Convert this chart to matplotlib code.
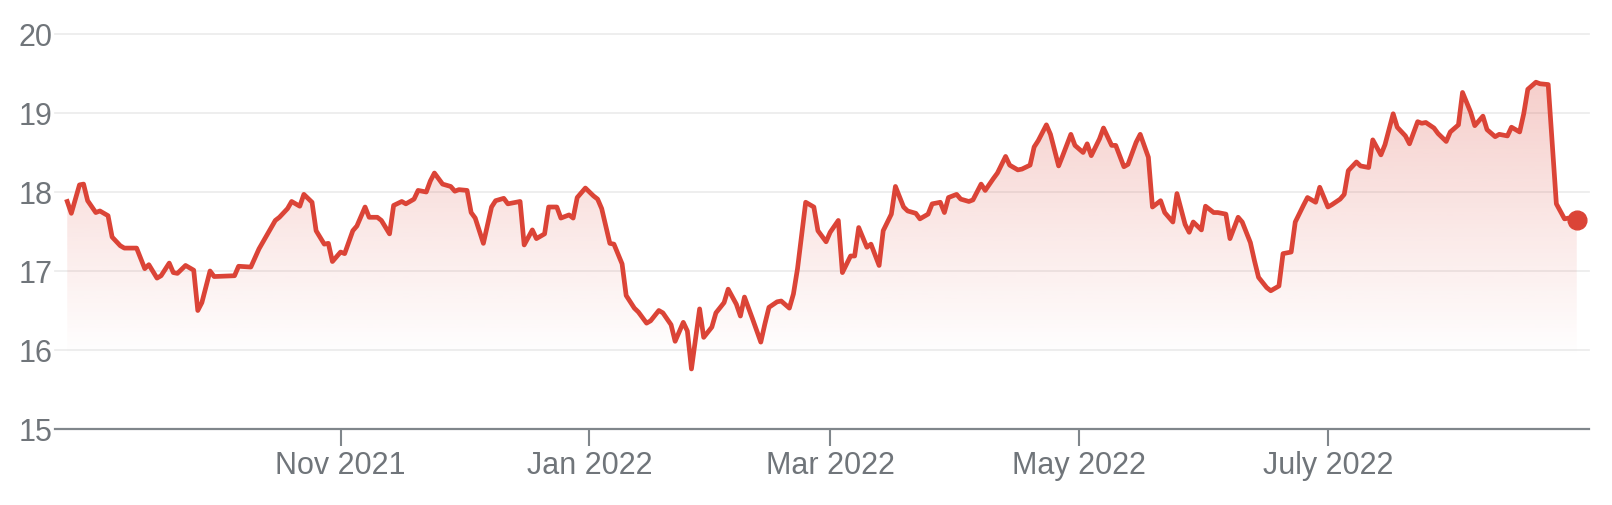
import matplotlib
matplotlib.use('Agg')
import matplotlib.pyplot as plt
import matplotlib.dates as mdates
from matplotlib.colors import to_rgb
import numpy as np
import pandas as pd

# price points
dates = [
    '2021-08-26', '2021-08-27', '2021-08-29', '2021-08-30', '2021-08-31', '2021-09-02',
    '2021-09-03', '2021-09-05', '2021-09-06', '2021-09-08', '2021-09-09', '2021-09-12',
    '2021-09-14', '2021-09-15', '2021-09-17', '2021-09-18', '2021-09-20', '2021-09-21',
    '2021-09-22', '2021-09-24', '2021-09-26', '2021-09-27', '2021-09-28', '2021-09-30',
    '2021-10-01', '2021-10-06', '2021-10-07', '2021-10-10', '2021-10-12', '2021-10-16',
    '2021-10-17', '2021-10-19', '2021-10-20', '2021-10-22', '2021-10-23', '2021-10-25',
    '2021-10-26', '2021-10-28', '2021-10-29', '2021-10-30', '2021-11-01', '2021-11-02',
    '2021-11-04', '2021-11-05', '2021-11-07', '2021-11-08', '2021-11-10', '2021-11-11',
    '2021-11-13', '2021-11-14', '2021-11-16', '2021-11-17', '2021-11-19', '2021-11-20',
    '2021-11-22', '2021-11-23', '2021-11-24', '2021-11-26', '2021-11-28', '2021-11-29',
    '2021-11-30', '2021-12-02', '2021-12-03', '2021-12-04', '2021-12-06', '2021-12-08',
    '2021-12-09', '2021-12-11', '2021-12-12', '2021-12-15', '2021-12-16', '2021-12-18',
    '2021-12-19', '2021-12-21', '2021-12-22', '2021-12-24', '2021-12-25', '2021-12-27',
    '2021-12-28', '2021-12-29', '2021-12-31', '2022-01-02', '2022-01-03', '2022-01-04',
    '2022-01-06', '2022-01-07', '2022-01-09', '2022-01-10', '2022-01-12', '2022-01-13',
    '2022-01-15', '2022-01-16', '2022-01-18', '2022-01-19', '2022-01-21', '2022-01-22',
    '2022-01-24', '2022-01-25', '2022-01-26', '2022-01-28', '2022-01-29', '2022-01-31',
    '2022-02-01', '2022-02-03', '2022-02-04', '2022-02-06', '2022-02-07', '2022-02-08',
    '2022-02-10', '2022-02-12', '2022-02-13', '2022-02-14', '2022-02-16', '2022-02-17',
    '2022-02-19', '2022-02-20', '2022-02-21', '2022-02-23', '2022-02-25', '2022-02-26',
    '2022-02-28', '2022-03-01', '2022-03-03', '2022-03-04', '2022-03-06', '2022-03-07',
    '2022-03-08', '2022-03-10', '2022-03-11', '2022-03-13', '2022-03-14', '2022-03-16',
    '2022-03-17', '2022-03-19', '2022-03-20', '2022-03-22', '2022-03-23', '2022-03-25',
    '2022-03-26', '2022-03-28', '2022-03-29', '2022-03-30', '2022-04-01', '2022-04-02',
    '2022-04-04', '2022-04-05', '2022-04-07', '2022-04-08', '2022-04-10', '2022-04-11',
    '2022-04-13', '2022-04-14', '2022-04-16', '2022-04-17', '2022-04-19', '2022-04-20',
    '2022-04-21', '2022-04-23', '2022-04-24', '2022-04-26', '2022-04-27', '2022-04-29',
    '2022-04-30', '2022-05-02', '2022-05-03', '2022-05-04', '2022-05-06', '2022-05-07',
    '2022-05-09', '2022-05-10', '2022-05-12', '2022-05-13', '2022-05-15', '2022-05-16',
    '2022-05-18', '2022-05-19', '2022-05-21', '2022-05-22', '2022-05-24', '2022-05-25',
    '2022-05-27', '2022-05-28', '2022-05-29', '2022-05-31', '2022-06-01', '2022-06-03',
    '2022-06-04', '2022-06-06', '2022-06-07', '2022-06-09', '2022-06-10', '2022-06-12',
    '2022-06-13', '2022-06-14', '2022-06-16', '2022-06-17', '2022-06-19', '2022-06-20',
    '2022-06-22', '2022-06-23', '2022-06-25', '2022-06-26', '2022-06-28', '2022-06-29',
    '2022-07-01', '2022-07-02', '2022-07-04', '2022-07-05', '2022-07-06', '2022-07-08',
    '2022-07-09', '2022-07-11', '2022-07-12', '2022-07-14', '2022-07-15', '2022-07-17',
    '2022-07-18', '2022-07-20', '2022-07-21', '2022-07-23', '2022-07-24', '2022-07-25',
    '2022-07-27', '2022-07-28', '2022-07-30', '2022-07-31', '2022-08-02', '2022-08-03',
    '2022-08-05', '2022-08-06', '2022-08-08', '2022-08-09', '2022-08-11', '2022-08-12',
    '2022-08-14', '2022-08-15', '2022-08-17', '2022-08-18', '2022-08-19', '2022-08-21',
    '2022-08-22', '2022-08-24', '2022-08-26', '2022-08-28', '2022-08-29', '2022-08-31',
]
prices = [
    17.88, 17.73, 18.09, 18.10, 17.89, 17.74,
    17.76, 17.70, 17.43, 17.32, 17.29, 17.29,
    17.03, 17.08, 16.91, 16.94, 17.10, 16.98,
    16.97, 17.07, 17.01, 16.50, 16.60, 17.00,
    16.93, 16.94, 17.06, 17.05, 17.28, 17.64,
    17.68, 17.79, 17.88, 17.82, 17.97, 17.87,
    17.51, 17.34, 17.35, 17.12, 17.24, 17.22,
    17.51, 17.57, 17.81, 17.68, 17.68, 17.64,
    17.47, 17.83, 17.88, 17.85, 17.91, 18.02,
    18.00, 18.14, 18.24, 18.10, 18.07, 18.01,
    18.03, 18.02, 17.74, 17.67, 17.35, 17.81,
    17.89, 17.92, 17.85, 17.88, 17.33, 17.52,
    17.41, 17.47, 17.81, 17.81, 17.67, 17.71,
    17.67, 17.93, 18.05, 17.95, 17.91, 17.79,
    17.35, 17.34, 17.09, 16.69, 16.53, 16.48,
    16.34, 16.37, 16.50, 16.47, 16.32, 16.11,
    16.35, 16.24, 15.76, 16.52, 16.16, 16.29,
    16.47, 16.60, 16.77, 16.58, 16.43, 16.67,
    16.39, 16.10, 16.33, 16.54, 16.61, 16.62,
    16.53, 16.71, 17.03, 17.87, 17.81, 17.51,
    17.37, 17.49, 17.64, 16.98, 17.19, 17.19,
    17.55, 17.30, 17.34, 17.07, 17.51, 17.72,
    18.07, 17.81, 17.76, 17.73, 17.66, 17.72,
    17.85, 17.87, 17.74, 17.93, 17.97, 17.91,
    17.88, 17.90, 18.10, 18.02, 18.17, 18.24,
    18.45, 18.34, 18.28, 18.29, 18.34, 18.57,
    18.65, 18.85, 18.73, 18.33, 18.46, 18.73,
    18.59, 18.50, 18.61, 18.46, 18.67, 18.81,
    18.59, 18.59, 18.32, 18.35, 18.63, 18.73,
    18.44, 17.81, 17.89, 17.74, 17.62, 17.98,
    17.59, 17.49, 17.62, 17.52, 17.82, 17.74,
    17.74, 17.72, 17.41, 17.68, 17.62, 17.36,
    17.13, 16.92, 16.79, 16.75, 16.81, 17.22,
    17.24, 17.62, 17.83, 17.93, 17.87, 18.06,
    17.81, 17.84, 17.91, 17.97, 18.27, 18.38,
    18.33, 18.31, 18.66, 18.47, 18.60, 18.99,
    18.82, 18.71, 18.61, 18.89, 18.87, 18.88,
    18.81, 18.74, 18.64, 18.76, 18.85, 19.26,
    19.01, 18.84, 18.96, 18.79, 18.70, 18.73,
    18.71, 18.82, 18.76, 18.99, 19.30, 19.39,
    19.37, 19.36, 17.85, 17.66, 17.67, 17.65,
]

y_ticks = [15, 16, 17, 18, 19, 20]
y_labels = ['15', '16', '17', '18', '19', '20']
x_ticks = ['2021-11-01', '2022-01-01', '2022-03-01', '2022-05-01', '2022-07-01']
x_labels = ['Nov 2021', 'Jan 2022', 'Mar 2022', 'May 2022', 'July 2022']

RED = '#db4437'
GREY = '#70757a'
AXIS_GREY = '#80868b'

plt.rcParams['font.family'] = ['Liberation Sans', 'DejaVu Sans']

x = pd.to_datetime(dates)
fig = plt.figure(figsize=(16.12, 5.06), dpi=100)
ax = fig.add_axes([55 / 1612, 76 / 506, 1534 / 1612, 395 / 506])

# gradient area under the line, clipped to the filled polygon
poly = ax.fill_between(x, prices, 15, facecolor='none', edgecolor='none')
xn = mdates.date2num(x)
grad = np.zeros((256, 1, 4))
grad[..., :3] = to_rgb(RED)
grad[:, 0, 3] = np.linspace(0.26, 0.0, 256)
im = ax.imshow(grad, extent=[xn[0], xn[-1], 15.9, 19.4], aspect='auto',
               origin='upper', interpolation='bilinear', zorder=1)
im.set_clip_path(poly.get_paths()[0], transform=ax.transData)

# price line and last-value dot
ax.plot(x, prices, color=RED, lw=3.4, zorder=3)
ax.plot(x[-1:], prices[-1:], 'o', ms=13.5, color=RED, zorder=4)

ax.set_xlim(pd.Timestamp('2021-08-23'), pd.Timestamp('2022-09-03'))
ax.set_ylim(15, 20)
ax.set_yticks(y_ticks, y_labels)
ax.set_xticks(pd.to_datetime(x_ticks), x_labels)

ax.grid(axis='y', color='#ededed', lw=1.3)
for gl in ax.get_ygridlines():
    gl.set_clip_on(False)
ax.set_axisbelow(True)

for side in ['top', 'left', 'right']:
    ax.spines[side].set_visible(False)
ax.spines['bottom'].set_color(AXIS_GREY)
ax.spines['bottom'].set_linewidth(1.6)

ax.tick_params(axis='y', length=0, pad=2, labelsize=22, labelcolor=GREY)
ax.tick_params(axis='x', length=12, width=1.5, color=AXIS_GREY, pad=3,
               labelsize=22, labelcolor=GREY)

fig.savefig('out.png', dpi=100, facecolor='white')
